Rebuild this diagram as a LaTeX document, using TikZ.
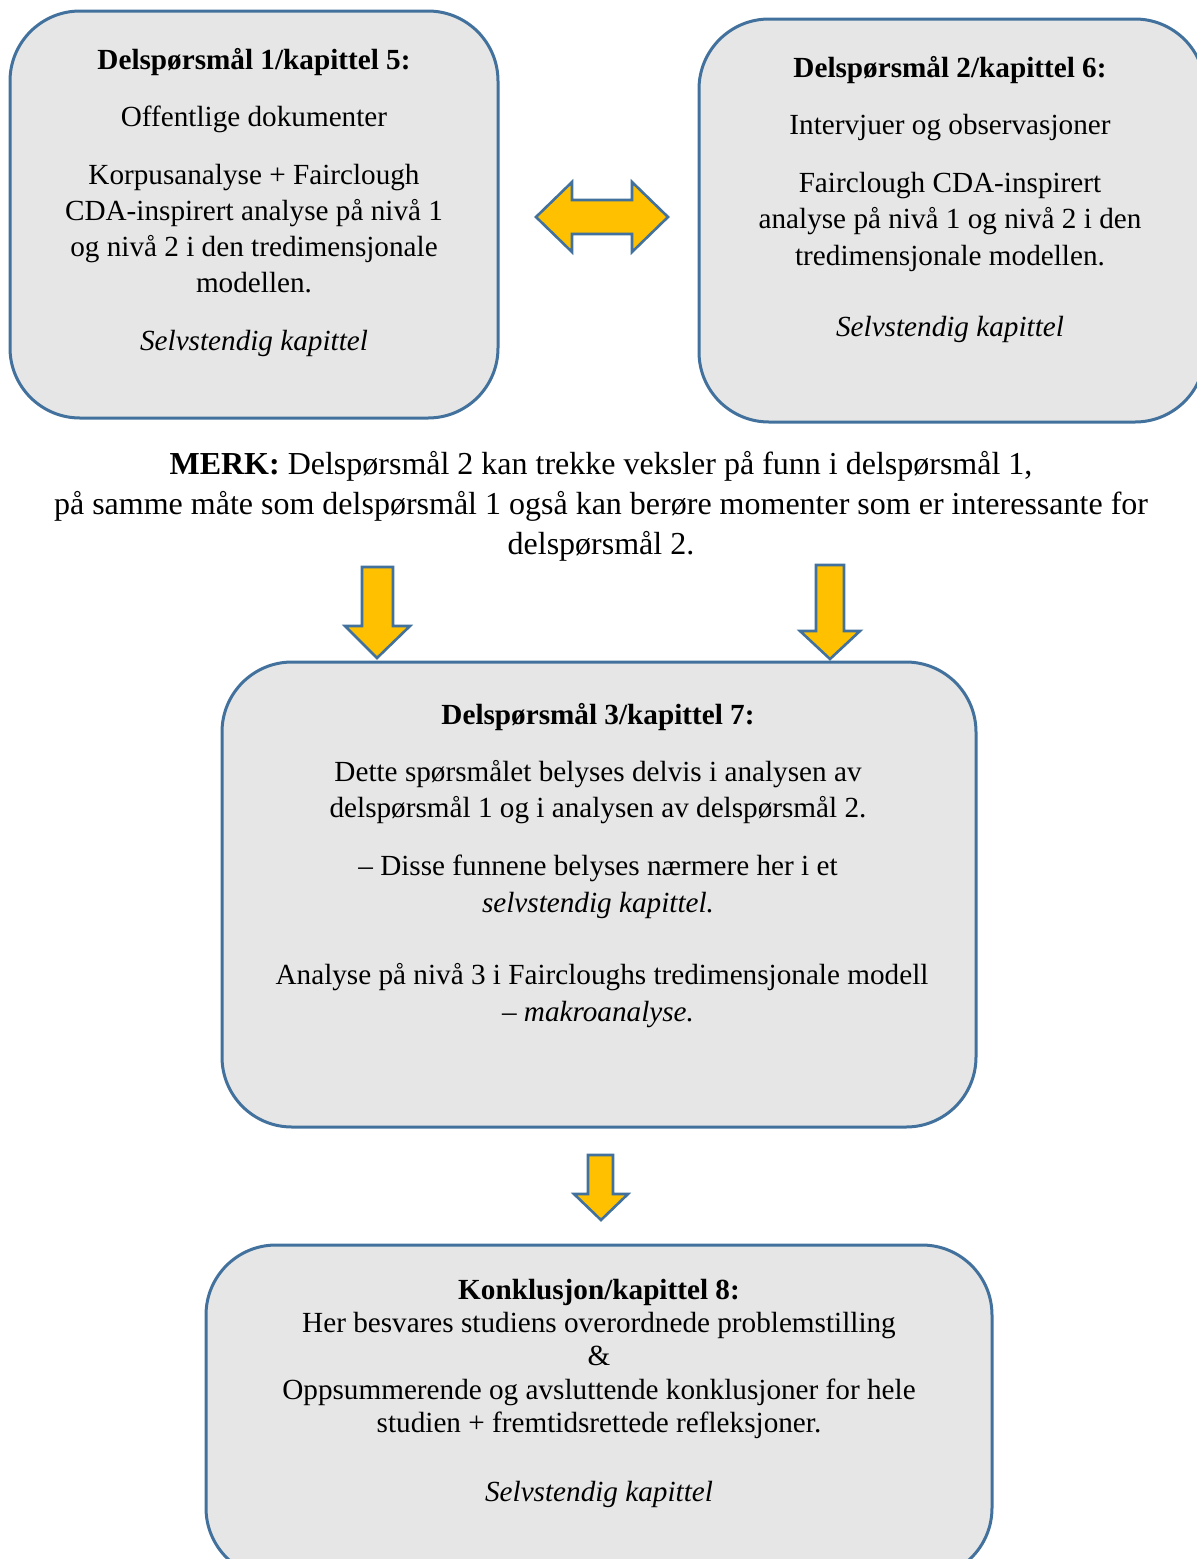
\documentclass[tikz,border=0pt]{standalone}
\usepackage{fontspec}
\setmainfont{Liberation Serif}
\definecolor{boxfill}{HTML}{E6E6E6}
\definecolor{boxline}{HTML}{41719C}
\definecolor{arrowfill}{HTML}{FFC000}
\tikzset{
  box/.style={draw=boxline, fill=boxfill, line width=1.5pt, rounded corners=35pt},
  blockarrow/.style={draw=boxline, fill=arrowfill, line width=1.3pt, line join=miter},
  txt/.style={anchor=base, inner sep=0pt, font=\fontsize{14.6pt}{17pt}\selectfont},
  merk/.style={anchor=base, inner sep=0pt, font=\fontsize{16pt}{19pt}\selectfont}
}
\begin{document}
\begin{tikzpicture}[x=0.5pt,y=-0.5pt]
\useasboundingbox (0,0) rectangle (1196,1559);
% boxes
\draw[box] (10,11) rectangle (498,418);
\draw[box] (699,19) rectangle (1205,422);
\draw[box] (222,662) rectangle (976,1127);
\draw[box] (206,1245) rectangle (992,1578);
% double arrow
\draw[blockarrow] (536,217) -- (572,182) -- (572,200) -- (632,200) -- (632,182) -- (668,217)
  -- (632,252) -- (632,234) -- (572,234) -- (572,252) -- cycle;
% down arrows
\draw[blockarrow] (362,567) -- (393,567) -- (393,626) -- (410,626) -- (377,658) -- (345,626) -- (362,626) -- cycle;
\draw[blockarrow] (816,565) -- (844,565) -- (844,631) -- (860,631) -- (830,659) -- (800,631) -- (816,631) -- cycle;
\draw[blockarrow] (588,1155) -- (613,1155) -- (613,1194) -- (628,1194) -- (601,1220) -- (574,1194) -- (588,1194) -- cycle;
% box 1 text
\node[txt] (a1) at (254,69) {\textbf{Delspørsmål 1/kapittel 5:}};
\node[txt] (a2) at (254,126) {Offentlige dokumenter};
\node[txt] (a3) at (254,184) {Korpusanalyse + Fairclough};
\node[txt] (a4) at (254,220) {CDA-inspirert analyse på nivå 1};
\node[txt] (a5) at (254,256) {og nivå 2 i den tredimensjonale};
\node[txt] (a6) at (254,292) {modellen.};
\node[txt] (a7) at (254,350) {\textit{Selvstendig kapittel}};
% box 2 text
\node[txt] (b1) at (950,77) {\textbf{Delspørsmål 2/kapittel 6:}};
\node[txt] (b2) at (950,134) {Intervjuer og observasjoner};
\node[txt] (b3) at (950,192) {Fairclough CDA-inspirert};
\node[txt] (b4) at (950,228) {analyse på nivå 1 og nivå 2 i den};
\node[txt] (b5) at (950,265) {tredimensjonale modellen.};
\node[txt] (b6) at (950,336) {\textit{Selvstendig kapittel}};
% MERK text
\node[merk] (m1) at (601,474) {\textbf{MERK:} Delspørsmål 2 kan trekke veksler på funn i delspørsmål 1,};
\node[merk] (m2) at (601,514) {på samme måte som delspørsmål 1 også kan berøre momenter som er interessante for};
\node[merk] (m3) at (601,554) {delspørsmål 2.};
% box 3 text
\node[txt] (c1) at (598,724) {\textbf{Delspørsmål 3/kapittel 7:}};
\node[txt] (c2) at (598,781) {Dette spørsmålet belyses delvis i analysen av};
\node[txt] (c3) at (598,817) {delspørsmål 1 og i analysen av delspørsmål 2.};
\node[txt] (c4) at (598,875) {– Disse funnene belyses nærmere her i et};
\node[txt] (c5) at (598,912) {\textit{selvstendig kapittel.}};
\node[txt] (c6) at (602,984) {Analyse på nivå 3 i Faircloughs tredimensjonale modell};
\node[txt] (c7) at (598,1021) {\textit{– makroanalyse.}};
% box 4 text
\node[txt] (d1) at (599,1299) {\textbf{Konklusjon/kapittel 8:}};
\node[txt] (d2) at (599,1332) {Her besvares studiens overordnede problemstilling};
\node[txt] (d3) at (599,1365) {\&};
\node[txt] (d4) at (599,1399) {Oppsummerende og avsluttende konklusjoner for hele};
\node[txt] (d5) at (599,1432) {studien + fremtidsrettede refleksjoner.};
\node[txt] (d6) at (599,1501) {\textit{Selvstendig kapittel}};
\end{tikzpicture}
\end{document}
